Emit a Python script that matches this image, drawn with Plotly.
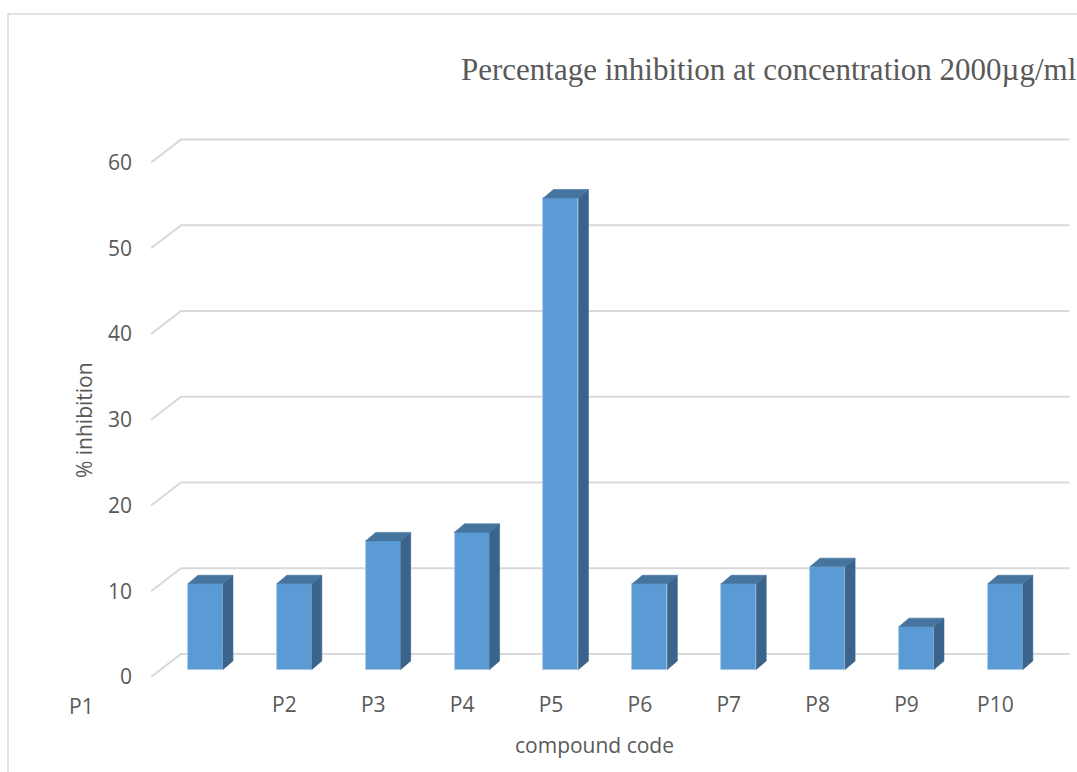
import plotly.graph_objects as go

# Compound codes and % inhibition at 2000 µg/ml
categories = ["P1", "P2", "P3", "P4", "P5", "P6", "P7", "P8", "P9", "P10"]
inhibition = [10, 10, 15, 16, 55, 10, 10, 12, 5, 10]
y_ticks = [0, 10, 20, 30, 40, 50, 60]

# pseudo-3D geometry (data units)
FLOOR_DX, FLOOR_DY = 0.3375, 2.68     # full depth of the floor / back wall offset
BAR_OFF_X, BAR_BASE = 0.1125, 0.875   # bar front face sits partly into the depth
BAR_HALF = 0.197
BAR_DX, BAR_DY = 0.1125, 0.99         # thickness of the bars in depth
X_MIN, X_MAX = -0.5, 9.84
Y_MAX = 63.8

FRONT = "#5B9BD5"
SIDE = "#3A648B"
TOP = "#45749F"
GRID = "#D9D9D9"
TEXT = "#595959"

idx = list(range(len(categories)))
fig = go.Figure()

# front faces
fig.add_trace(go.Bar(
    x=[i + BAR_OFF_X for i in idx], y=inhibition, base=BAR_BASE,
    width=2 * BAR_HALF,
    marker=dict(color=FRONT, line=dict(color="#A7C6E6", width=0.8)),
    hoverinfo="skip", showlegend=False,
))

# right side faces and top faces
sx, sy, tx, ty = [], [], [], []
for i, v in zip(idx, inhibition):
    xl = i + BAR_OFF_X - BAR_HALF
    xr = i + BAR_OFF_X + BAR_HALF
    yb = BAR_BASE
    yt = BAR_BASE + v
    sx += [xr, xr, xr + BAR_DX, xr + BAR_DX, xr, None]
    sy += [yb, yt, yt + BAR_DY, yb + BAR_DY, yb, None]
    tx += [xl, xr, xr + BAR_DX, xl + BAR_DX, xl, None]
    ty += [yt, yt, yt + BAR_DY, yt + BAR_DY, yt, None]

fig.add_trace(go.Scatter(x=sx, y=sy, mode="lines", fill="toself",
                         fillcolor=SIDE, line=dict(width=0.6, color=SIDE),
                         hoverinfo="skip", showlegend=False))
fig.add_trace(go.Scatter(x=tx, y=ty, mode="lines", fill="toself",
                         fillcolor=TOP, line=dict(width=0.6, color=TOP),
                         hoverinfo="skip", showlegend=False))

# back-wall gridlines with their oblique floor connectors
shapes = []
for v in y_ticks:
    shapes.append(dict(type="path", xref="x", yref="y", layer="below",
                       path=f"M {X_MIN},{v} L {X_MIN + FLOOR_DX},{v + FLOOR_DY} "
                            f"L {X_MAX - 0.005},{v + FLOOR_DY}",
                       line=dict(color=GRID, width=2)))

# outer chart border
shapes.append(dict(type="rect", xref="paper", yref="paper", layer="below",
                   x0=-0.1556, y0=-0.3, x1=1.2, y1=1.212,
                   line=dict(color=GRID, width=1.5)))

font_axes = dict(family="Open Sans", size=21, color=TEXT)

annotations = [
    dict(text="Percentage inhibition at concentration 2000µg/ml",
         xref="paper", yref="paper", x=(459 - 151) / 919, y=(677 - 70) / 547,
         xanchor="left", yanchor="middle", showarrow=False,
         font=dict(family="Liberation Serif", size=31, color=TEXT)),
    dict(text="% inhibition", xref="paper", yref="paper",
         x=(84 - 151) / 919, y=(677 - 420) / 547, textangle=-90,
         xanchor="center", yanchor="middle", showarrow=False, font=font_axes),
    dict(text="compound code", xref="paper", yref="paper",
         x=(594 - 151) / 919, y=(677 - 745) / 547,
         xanchor="center", yanchor="middle", showarrow=False, font=font_axes),
    dict(text=categories[0], xref="paper", yref="paper",
         x=(81 - 151) / 919, y=(677 - 706) / 547,
         xanchor="center", yanchor="middle", showarrow=False, font=font_axes),
]

fig.update_layout(
    width=1077, height=772,
    margin=dict(l=151, r=7, t=130, b=95),
    paper_bgcolor="white", plot_bgcolor="white",
    shapes=shapes, annotations=annotations,
    bargap=0, showlegend=False,
    xaxis=dict(range=[X_MIN, X_MAX], tickvals=idx[1:], ticktext=categories[1:],
               showgrid=False, zeroline=False, showline=False, ticks="",
               tickfont=font_axes, ticklabelstandoff=13),
    yaxis=dict(range=[0, Y_MAX], tickvals=y_ticks, showgrid=False,
               zeroline=False, showline=False, ticks="",
               tickfont=font_axes, ticklabelstandoff=18),
)

fig.write_html("out.html")
